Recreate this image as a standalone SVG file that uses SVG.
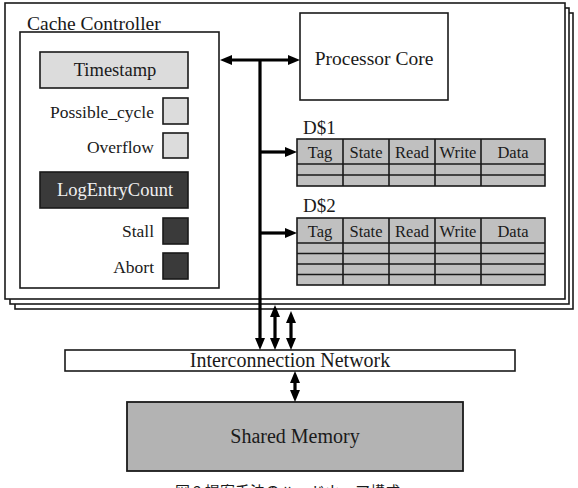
<svg xmlns="http://www.w3.org/2000/svg" width="578" height="488" viewBox="0 0 578 488">
<style>
  text { font-family: "Liberation Serif", "DejaVu Serif", serif; fill: #1a1a1a; }
  .box { fill: #ffffff; stroke: #1a1a1a; stroke-width: 1.6; }
  .light { fill: #dcdcdc; stroke: #1a1a1a; stroke-width: 1.6; }
  .dark { fill: #3a3a3a; stroke: #1a1a1a; stroke-width: 1.6; }
  .tbl { fill: #c0c0c0; stroke: #1a1a1a; stroke-width: 1.6; }
  .grid { stroke: #1a1a1a; stroke-width: 1.6; fill: none; }
  .mem { fill: #b3b3b3; stroke: #1a1a1a; stroke-width: 1.8; }
  .c { text-anchor: middle; }
  .r { text-anchor: end; }
  .lbl { font-size: 17.5px; text-anchor: end; }
  .th { font-size: 16.5px; text-anchor: middle; }
  .conn { stroke: #000; stroke-width: 3.2; fill: none; }
  .cap { font-family: "Noto Sans CJK JP", "Liberation Serif", serif; font-size: 15px; }
</style>
<defs>
  <marker id="ah" viewBox="0 0 12 10" markerWidth="12" markerHeight="10" markerUnits="userSpaceOnUse" refX="6" refY="5" orient="auto-start-reverse">
    <path d="M0,0 L12,5 L0,10 z" fill="#000"/>
  </marker>
</defs>

<g id="node-stack">
  <rect class="box" x="15" y="13" width="558" height="296"/>
  <rect class="box" x="10" y="8" width="559" height="296"/>
  <rect class="box" x="5" y="3" width="560" height="296"/>
</g>

<g id="node-cache-controller">
  <text x="27" y="30" font-size="19.5">Cache Controller</text>
  <rect class="box" x="20" y="32" width="199" height="256"/>
</g>

<g id="node-timestamp">
  <rect class="light" x="40" y="52" width="148" height="36"/>
  <text class="c" x="115" y="76" font-size="18.5">Timestamp</text>
</g>
<g id="node-possible-cycle">
  <rect class="light" x="163" y="98" width="25" height="26"/>
  <text class="lbl" x="154" y="118">Possible_cycle</text>
</g>
<g id="node-overflow">
  <rect class="light" x="163" y="133" width="25" height="25"/>
  <text class="lbl" x="154" y="153">Overflow</text>
</g>
<g id="node-logentrycount">
  <rect class="dark" x="40" y="172" width="148" height="36"/>
  <text class="c" x="115" y="196" font-size="18.5" style="fill:#f0f0f0">LogEntryCount</text>
</g>
<g id="node-stall">
  <rect class="dark" x="163" y="218" width="25" height="26"/>
  <text class="lbl" x="154" y="237">Stall</text>
</g>
<g id="node-abort">
  <rect class="dark" x="163" y="253" width="25" height="26"/>
  <text class="lbl" x="154" y="273">Abort</text>
</g>

<g id="node-processor-core">
  <rect class="box" x="300" y="13" width="148" height="87"/>
  <text class="c" x="374" y="65" font-size="19.5">Processor Core</text>
</g>

<g id="node-d1">
  <text x="303" y="134" font-size="19">D$1</text>
  <rect class="tbl" x="297" y="139" width="248" height="47"/>
  <path class="grid" d="M297,164 H545 M297,175 H545 M343,139 V186 M389,139 V186 M435,139 V186 M481,139 V186"/>
  <text class="th" x="320" y="158">Tag</text>
  <text class="th" x="366" y="158">State</text>
  <text class="th" x="412" y="158">Read</text>
  <text class="th" x="458" y="158">Write</text>
  <text class="th" x="513" y="158">Data</text>
</g>

<g id="node-d2">
  <text x="303" y="212" font-size="19">D$2</text>
  <rect class="tbl" x="297" y="218" width="248" height="67"/>
  <path class="grid" d="M297,243 H545 M297,253.5 H545 M297,264 H545 M297,274.5 H545 M343,218 V285 M389,218 V285 M435,218 V285 M481,218 V285"/>
  <text class="th" x="320" y="237">Tag</text>
  <text class="th" x="366" y="237">State</text>
  <text class="th" x="412" y="237">Read</text>
  <text class="th" x="458" y="237">Write</text>
  <text class="th" x="513" y="237">Data</text>
</g>

<g id="node-interconnect">
  <rect class="box" x="65" y="350" width="450" height="21"/>
  <text class="c" x="290" y="367" font-size="20">Interconnection Network</text>
</g>

<g id="node-shared-memory">
  <rect class="mem" x="127" y="402" width="336" height="69"/>
  <text class="c" x="295" y="443" font-size="20">Shared Memory</text>
</g>

<g id="connectors">
  <path class="conn" d="M226,60 H294" marker-start="url(#ah)" marker-end="url(#ah)"/>
  <path class="conn" d="M260,60 V344" marker-end="url(#ah)"/>
  <path class="conn" d="M260,152 H291" marker-end="url(#ah)"/>
  <path class="conn" d="M260,233 H291" marker-end="url(#ah)"/>
  <path class="conn" d="M275,311 V344" marker-start="url(#ah)" marker-end="url(#ah)"/>
  <path class="conn" d="M291,317 V344" marker-start="url(#ah)" marker-end="url(#ah)"/>
  <path class="conn" d="M295,377 V396" marker-start="url(#ah)" marker-end="url(#ah)"/>
</g>

<text class="cap" x="175" y="497">図 2 提案手法のハードウェア構成</text>
</svg>
